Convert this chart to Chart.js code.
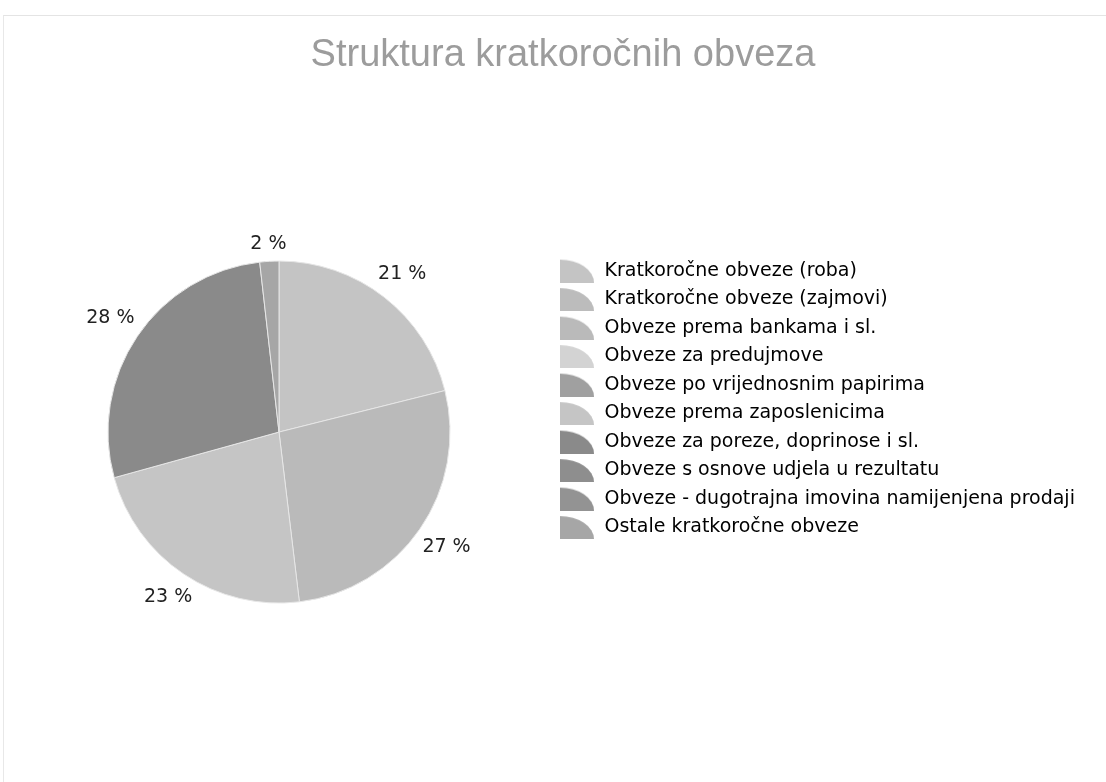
<!DOCTYPE html>
<html>
<head>
<meta charset="utf-8">
<title>Struktura kratkoročnih obveza</title>
<script src="https://cdn.jsdelivr.net/npm/chart.js@4/dist/chart.umd.min.js"></script>
<style>
  html, body { margin: 0; padding: 0; background: #fff; }
  #wrap { position: relative; width: 1106px; height: 782px; overflow: hidden; }
  #frame { position: absolute; left: 3px; top: 15px; right: -2px; bottom: -2px;
           border-top: 1px solid #e4e4e4; border-left: 1px solid #e8e8e8; pointer-events: none; }
  canvas { position: absolute; left: 0; top: 0; }
</style>
</head>
<body>
<div id="wrap">
  <div id="frame"></div>
  <canvas id="strukturaChart" width="1106" height="782"></canvas>
</div>
<script>
// Podaci (ocitano sa slike)
const kategorije = [
  'Kratkoročne obveze (roba)',
  'Kratkoročne obveze (zajmovi)',
  'Obveze prema bankama i sl.',
  'Obveze za predujmove',
  'Obveze po vrijednosnim papirima',
  'Obveze prema zaposlenicima',
  'Obveze za poreze, doprinose i sl.',
  'Obveze s osnove udjela u rezultatu',
  'Obveze - dugotrajna imovina namijenjena prodaji',
  'Ostale kratkoročne obveze'
];
const udjeli = [21.1, 0, 27.0, 0, 0, 22.6, 27.5, 0, 0, 1.8];
const boje = ['#c4c4c4', '#bcbcbc', '#bababa', '#d3d3d3', '#a0a0a0',
              '#c5c5c5', '#8a8a8a', '#8e8e8e', '#939393', '#a6a6a6'];

const LABEL_FONT = '"DejaVu Sans", Verdana, sans-serif';
const FONT_SIZE = 19;
const LEGEND_PAD = 9.5;

// ikona legende - cetvrtina elipse
function makeIcon(color) {
  const c = document.createElement('canvas');
  c.width = 35;
  c.height = 24;
  const g = c.getContext('2d');
  g.fillStyle = color;
  g.beginPath();
  g.moveTo(0, 24);
  g.ellipse(0, 24, 34, 23, 0, -Math.PI / 2, 0);
  g.closePath();
  g.fill();
  return c;
}
const ikone = boje.map(makeIcon);

// sirina legende da bi pita i legenda stajale na pravom mjestu
function legendWidth() {
  const ctx = document.createElement('canvas').getContext('2d');
  ctx.font = FONT_SIZE + 'px ' + LABEL_FONT;
  const maxText = Math.max(...kategorije.map(k => ctx.measureText(k).width));
  return LEGEND_PAD + 35 + FONT_SIZE / 2 + maxText + 10;
}

// naslov centriran preko cijele slike, ne samo lijevo od legende
const naslovPlugin = {
  id: 'naslovPomak',
  afterLayout(chart) {
    if (chart.titleBlock) {
      chart.titleBlock.left = 20;
      chart.titleBlock.right = 1106;
    }
  }
};

// postotci oko pite
const postotciPlugin = {
  id: 'postotci',
  afterDatasetsDraw(chart) {
    const ctx = chart.ctx;
    const meta = chart.getDatasetMeta(0);
    const data = chart.data.datasets[0].data;
    const total = data.reduce((a, b) => a + b, 0);
    ctx.save();
    ctx.font = FONT_SIZE + 'px ' + LABEL_FONT;
    ctx.fillStyle = '#222';
    ctx.textAlign = 'center';
    ctx.textBaseline = 'middle';
    meta.data.forEach((arc, i) => {
      if (!data[i]) return;
      const p = arc.getProps(['x', 'y', 'startAngle', 'endAngle', 'outerRadius'], true);
      const mid = (p.startAngle + p.endAngle) / 2;
      const txt = Math.round(data[i] / total * 100) + ' %';
      const w = ctx.measureText(txt).width;
      const h = 16;
      const cx = Math.cos(mid), cy = Math.sin(mid);
      const r = p.outerRadius + 8 + Math.abs(cx) * w / 2 + Math.abs(cy) * h / 2;
      ctx.fillText(txt, p.x + cx * r, p.y + cy * r);
    });
    ctx.restore();
  }
};

const legLeft = 560 - LEGEND_PAD;
const ctx = document.getElementById('strukturaChart').getContext('2d');
new Chart(ctx, {
  type: 'pie',
  data: {
    labels: kategorije,
    datasets: [{
      data: udjeli,
      backgroundColor: boje,
      borderColor: '#e6e6e6',
      borderWidth: 1,
      radius: 171
    }]
  },
  options: {
    responsive: false,
    animation: false,
    layout: {
      padding: { left: 2 * 279 - legLeft, top: 0, bottom: 169.5, right: 1106 - legLeft - legendWidth() }
    },
    plugins: {
      title: {
        display: true,
        text: 'Struktura kratkoročnih obveza',
        color: '#9c9c9c',
        font: { family: '"Liberation Sans", Arial, sans-serif', size: 38, weight: 'normal' },
        padding: { top: 33, bottom: 173 }
      },
      legend: {
        position: 'right',
        align: 'start',
        fullSize: false,
        labels: {
          color: '#2a2a2a',
          font: { family: LABEL_FONT, size: FONT_SIZE },
          usePointStyle: true,
          pointStyleWidth: 35,
          padding: LEGEND_PAD,
          generateLabels(chart) {
            return kategorije.map((k, i) => ({
              text: k,
              fillStyle: boje[i],
              strokeStyle: boje[i],
              lineWidth: 0,
              pointStyle: ikone[i],
              hidden: false,
              index: i
            }));
          }
        }
      },
      tooltip: { enabled: false }
    }
  },
  plugins: [naslovPlugin, postotciPlugin]
});
</script>
</body>
</html>
